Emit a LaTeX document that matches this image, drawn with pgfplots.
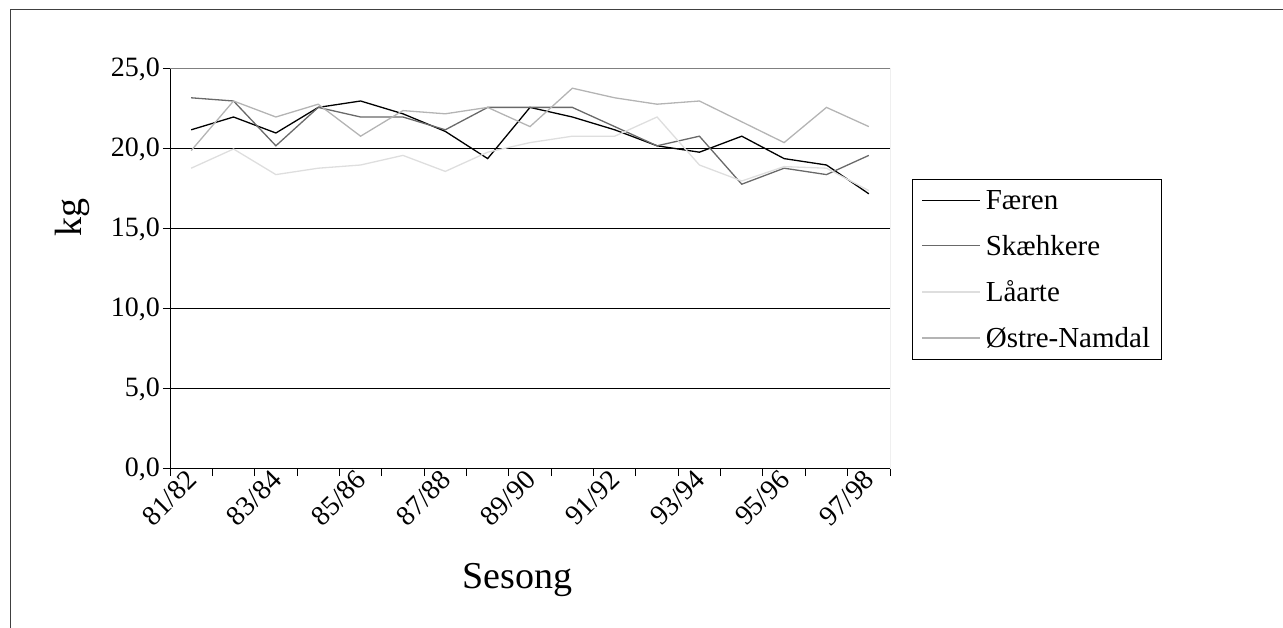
\documentclass[border=0pt]{standalone}
\usepackage{fontspec}
\setmainfont{Liberation Serif}
\usepackage{pgfplots}
\pgfplotsset{compat=1.18}
\usepackage{pgfplotstable}
\definecolor{cFaeren}{RGB}{0,0,0}
\definecolor{cSkaeh}{RGB}{105,105,105}
\definecolor{cLaarte}{RGB}{222,222,222}
\definecolor{cOstre}{RGB}{180,180,180}
\definecolor{cBorder}{RGB}{128,128,128}
\pgfplotstableread{
x Faeren Skaehkere Laarte Ostre
0.5 21.2 23.2 18.8 19.9
1.5 22.0 23.0 20.0 23.0
2.5 21.0 20.2 18.4 22.0
3.5 22.6 22.6 18.8 22.8
4.5 23.0 22.0 19.0 20.8
5.5 22.2 22.0 19.6 22.4
6.5 21.1 21.2 18.6 22.2
7.5 19.4 22.6 19.8 22.6
8.5 22.6 22.6 20.4 21.4
9.5 22.0 22.6 20.8 23.8
10.5 21.2 21.4 20.8 23.2
11.5 20.2 20.2 22.0 22.8
12.5 19.8 20.8 19.0 23.0
13.5 20.8 17.8 18.0 21.7
14.5 19.4 18.8 18.9 20.4
15.5 19.0 18.4 18.8 22.6
16.5 17.2 19.6 17.4 21.4
}\datatable
\begin{document}
\begin{tikzpicture}
\useasboundingbox (0pt,0pt) rectangle (1283pt,627pt);
\draw[color={rgb,255:red,64;green,64;blue,64}, line width=1pt] (10pt,-5pt) -- (10pt,617pt) -- (1290pt,617pt);
\begin{axis}[
  at={(170pt,158pt)}, anchor=south west,
  scale only axis, width=720pt, height=400pt,
  xmin=0, xmax=17, ymin=0, ymax=25,
  axis x line*=bottom, axis y line*=left,
  axis line style={black, line width=1pt},
  xtick={0.5,2.5,...,16.5},
  xticklabels={81/82,83/84,85/86,87/88,89/90,91/92,93/94,95/96,97/98},
  minor xtick={0,1,...,17},
  major x tick style={draw=none},
  minor x tick style={black, line width=1pt},
  minor tick length=7pt,
  ytick={0,5,...,25},
  major y tick style={black, line width=1pt},
  major tick length=7pt,
  tick align=outside,
  ymajorgrids,
  major grid style={black, line width=1pt},
  /pgf/number format/.cd, use comma, fixed, fixed zerofill, precision=1, assume math mode=true,
  /pgfplots/.cd,
  tick label style={font=\fontsize{28}{31}\selectfont},
  xticklabel style={rotate=45, anchor=east, inner sep=2pt, xshift=3pt},
  yticklabel style={inner sep=3pt},
  xlabel={Sesong}, ylabel={kg},
  label style={font=\fontsize{38}{42}\selectfont},
  xlabel style={at={(axis description cs:0.483,-0.2775)}, anchor=center},
  ylabel style={at={(axis description cs:-0.136,0.6275)}, anchor=center},
  legend style={at={(axis description cs:1.0306,0.725)}, anchor=north west,
    draw=black, line width=1pt, font=\fontsize{29}{32}\selectfont,
    inner xsep=9pt, inner ysep=9pt, row sep=20pt, cells={anchor=west}},
  legend image code/.code={\draw[#1, line width=1.3pt] (0pt,0pt) -- (58pt,0pt); \path (61pt,0pt);},
  legend cell align=left,
  every axis plot/.append style={line width=1.3pt, mark=none},
]
\addplot[color=cFaeren] table[x=x, y=Faeren] {\datatable};
\addlegendentry{Færen}
\addplot[color=cSkaeh] table[x=x, y=Skaehkere] {\datatable};
\addlegendentry{Skæhkere}
\addplot[color=cLaarte] table[x=x, y=Laarte] {\datatable};
\addlegendentry{Låarte}
\addplot[color=cOstre] table[x=x, y=Ostre] {\datatable};
\addlegendentry{Østre-Namdal}
\draw[cBorder, line width=1pt] (rel axis cs:0,1) -- (rel axis cs:1,1) -- (rel axis cs:1,0);
\end{axis}
\end{tikzpicture}
\end{document}
